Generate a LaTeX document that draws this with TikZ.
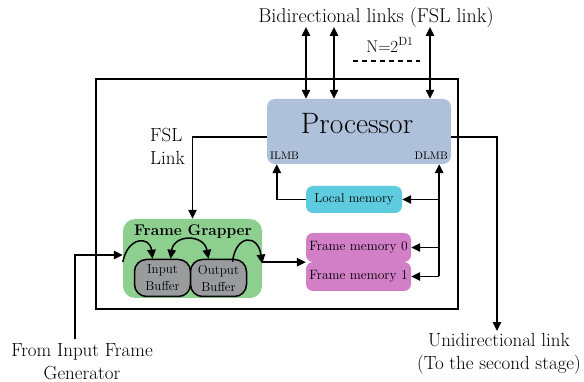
\documentclass[tikz,border=0pt]{standalone}
\usepackage{fontspec}
\setmainfont{Latin Modern Roman}
\usetikzlibrary{arrows.meta,calc}
\definecolor{procblue}{HTML}{AFC0DA}
\definecolor{localcyan}{HTML}{5ECBDF}
\definecolor{fmpink}{HTML}{D27FC8}
\definecolor{fggreen}{HTML}{8DCF8F}
\definecolor{bufgrey}{HTML}{9A9B9C}
% font size and baseline skip, both in pt
\newcommand{\fs}[2]{\fontsize{#1pt}{#2pt}\selectfont}
\begin{document}
\begin{tikzpicture}[x=1pt,y=-1pt,
  conn/.style={line width=1.5pt,-{Triangle[length=9pt,width=8.5pt]}},
  biconn/.style={line width=1.5pt,{Triangle[length=9pt,width=8.5pt]}-{Triangle[length=9pt,width=8.5pt]}},
  plain/.style={line width=1.5pt},
  blockbox/.style={rounded corners=8pt,inner sep=0pt,anchor=center},
  lbl/.style={align=center,inner sep=0pt,font=\fs{19}{23}},
]
\useasboundingbox (0,0) rectangle (584,382);

% enclosing system border
\draw[line width=1.5pt] (96,79) rectangle (458,309);

% blocks
\node[blockbox,fill=procblue,minimum width=184pt,minimum height=65pt] (proc) at (359,131.5) {};
\node[font=\fs{29.5}{32}] (proclbl) at (357,124) {Processor};
\node[font=\fs{11}{12},anchor=west,inner sep=0pt] (ilmb) at (270,156) {ILMB};
\node[font=\fs{11}{12},anchor=east,inner sep=0pt] (dlmb) at (448,156) {DLMB};

\node[blockbox,fill=localcyan,minimum width=96pt,minimum height=27pt,rounded corners=7pt,font=\fs{13}{15}] (local) at (354,199.5) {Local memory};
\node[blockbox,fill=fmpink,minimum width=105pt,minimum height=29pt,rounded corners=7pt,font=\fs{13.5}{15}] (fm0) at (358.5,247.5) {Frame memory 0};
\node[blockbox,fill=fmpink,minimum width=105pt,minimum height=29pt,rounded corners=7pt,font=\fs{13.5}{15}] (fm1) at (358.5,276.5) {Frame memory 1};

\node[blockbox,fill=fggreen,minimum width=139pt,minimum height=79pt,rounded corners=12pt] (fg) at (192.5,258.5) {};
\node[font=\bfseries\fs{15.5}{17}] (fglbl) at (193,232) {Frame Grapper};
\node[blockbox,fill=bufgrey,draw=black,line width=1.5pt,minimum width=56pt,minimum height=37pt,rounded corners=12pt,align=center,font=\fs{13}{17}] (ib) at (162.5,278) {Input\\Buffer};
\node[blockbox,fill=bufgrey,draw=black,line width=1.5pt,minimum width=56pt,minimum height=37pt,rounded corners=12pt,align=center,font=\fs{13}{17}] (ob) at (218.5,278) {Output\\Buffer};

% external labels
\node[lbl,font=\fs{20}{23}] (bidi) at (376,18) {Bidirectional links (FSL link)};
\node[lbl,font=\fs{17}{19}] (nlbl) at (390,45) {N=2\textsuperscript{D1}};
\node[lbl,align=left,anchor=west] (fsl) at (150,146) {FSL\\Link};
\node[lbl] (gen) at (82,361.5) {From Input Frame\\Generator};
\node[lbl] (uni) at (499,353.5) {Unidirectional link\\(To the second stage)};

% bidirectional FSL links at the top
\coordinate (t1) at (306,27);
\coordinate (t2) at (334,27);
\coordinate (t3) at (430,27);
\draw[biconn] (t1) -- (t1 |- proc.north);
\draw[biconn] (t2) -- (t2 |- proc.north);
\draw[biconn] (t3) -- (t3 |- proc.north);
\coordinate (d1) at (353,61);
\coordinate (d2) at (420,61);
\draw[plain,dash pattern=on 5pt off 4pt] (d1) -- (d2);

% FSL link to the frame grabber
\draw[conn] ([yshift=-5.5pt]proc.west) -| (fg.north);

% unidirectional link to the second stage
\coordinate (uniend) at (497,331);
\draw[conn] ([yshift=-5.5pt]proc.east) -| (uniend);

% instruction LMB
\draw[conn] (local.west) -| ([xshift=10pt]proc.south west);

% data LMB bus
\coordinate (dl) at ([xshift=-12pt]proc.south east);
\draw[conn] (dl |- fm1.east) -- (dl);
\draw[conn] (local.east -| dl) -- (local.east);
\draw[conn] (fm0.east -| dl) -- (fm0.east);
\draw[conn] (fm1.east -| dl) -- (fm1.east);

% input frames entering the frame grabber
\coordinate (src) at (75,339);
\draw[conn] (src) |- ([yshift=3.5pt]fg.west);

% frame grabber to frame memories
\draw[conn] (fg.east |- fm0.south west) -- (fm0.south west);

% buffer transfers inside the frame grabber
\draw[conn] ([yshift=-3.5pt]fg.west) .. controls (128,236) and (150,236) .. ([xshift=-10pt]ib.north);
\draw[biconn] ([xshift=8pt]ib.north) .. controls (174,234) and (204,234) .. ([xshift=-10pt]ob.north);
\draw[conn] ([xshift=14pt,yshift=-3pt]ob.north) .. controls (236,234) and (258,234) .. ([yshift=-5pt]fg.east);
\end{tikzpicture}
\end{document}
